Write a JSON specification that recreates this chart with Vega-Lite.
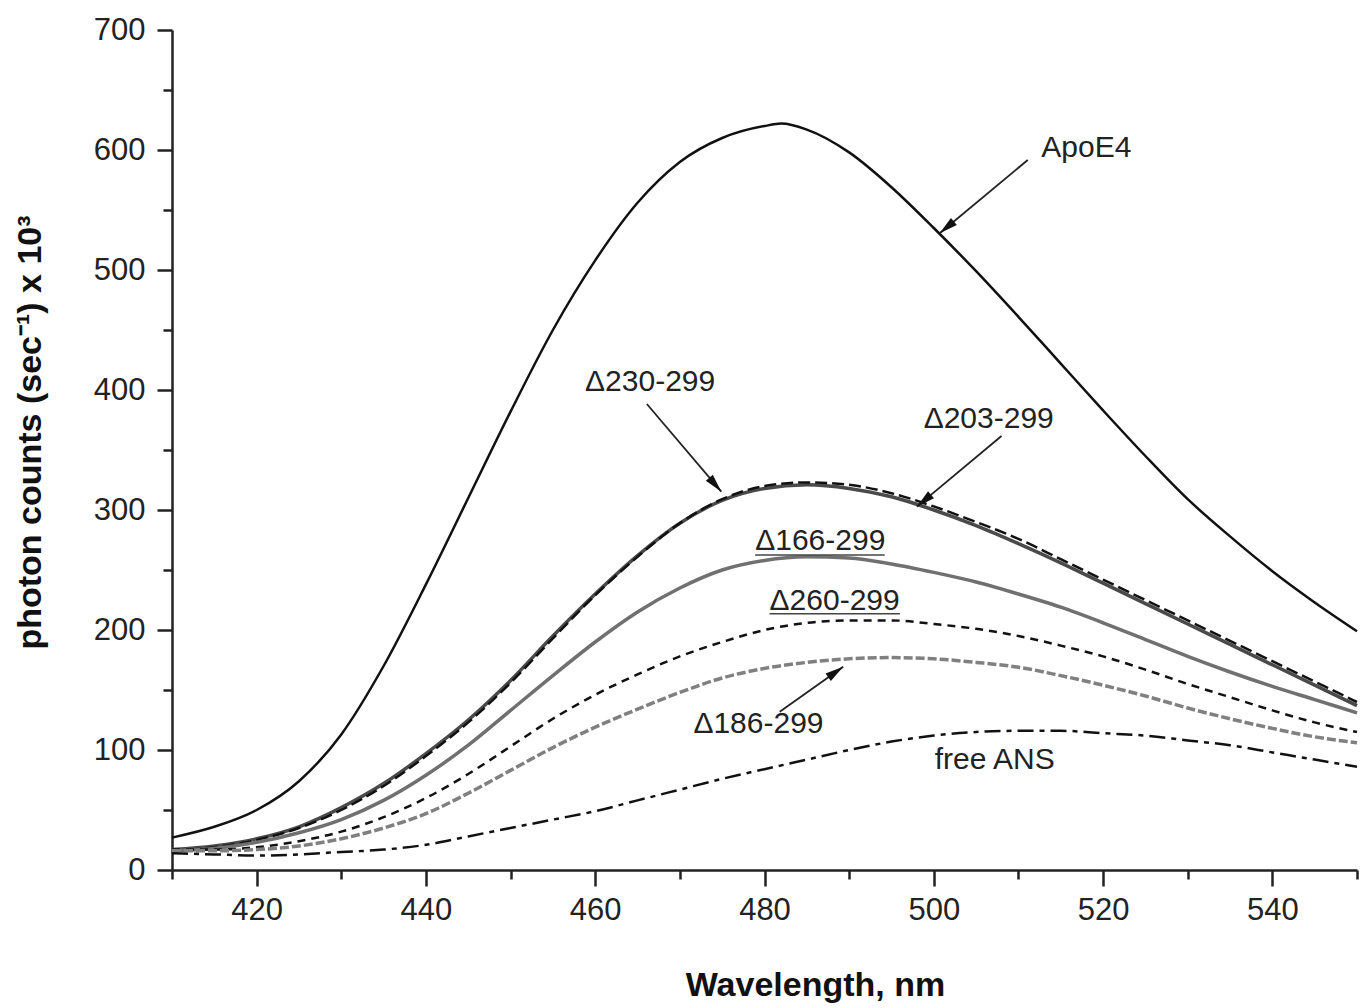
{
  "$schema": "https://vega.github.io/schema/vega-lite/v6.json",
  "width": 1185,
  "height": 840,
  "autosize": "none",
  "padding": {"left": 172, "top": 30, "right": 7, "bottom": 138},
  "background": "white",
  "config": {"view": {"stroke": null}, "font": "Liberation Sans"},
  "datasets": {
    "spectra": [
      {"s":"ApoE4","wl":410,"v":27},{"s":"ApoE4","wl":415,"v":36},{"s":"ApoE4","wl":420,"v":50},{"s":"ApoE4","wl":425,"v":74},{"s":"ApoE4","wl":430,"v":113},{"s":"ApoE4","wl":435,"v":170},{"s":"ApoE4","wl":440,"v":238},{"s":"ApoE4","wl":445,"v":310},{"s":"ApoE4","wl":450,"v":382},{"s":"ApoE4","wl":455,"v":450},{"s":"ApoE4","wl":460,"v":508},{"s":"ApoE4","wl":465,"v":556},{"s":"ApoE4","wl":470,"v":590},{"s":"ApoE4","wl":475,"v":610},{"s":"ApoE4","wl":480,"v":620},{"s":"ApoE4","wl":482,"v":622},{"s":"ApoE4","wl":485,"v":617},{"s":"ApoE4","wl":490,"v":598},{"s":"ApoE4","wl":495,"v":569},{"s":"ApoE4","wl":500,"v":535},{"s":"ApoE4","wl":505,"v":499},{"s":"ApoE4","wl":510,"v":461},{"s":"ApoE4","wl":515,"v":422},{"s":"ApoE4","wl":520,"v":383},{"s":"ApoE4","wl":525,"v":345},{"s":"ApoE4","wl":530,"v":309},{"s":"ApoE4","wl":535,"v":278},{"s":"ApoE4","wl":540,"v":249},{"s":"ApoE4","wl":545,"v":223},{"s":"ApoE4","wl":550,"v":199},
      {"s":"Δ230-299","wl":410,"v":17},{"s":"Δ230-299","wl":415,"v":20},{"s":"Δ230-299","wl":420,"v":26},{"s":"Δ230-299","wl":425,"v":36},{"s":"Δ230-299","wl":430,"v":52},{"s":"Δ230-299","wl":435,"v":72},{"s":"Δ230-299","wl":440,"v":97},{"s":"Δ230-299","wl":445,"v":125},{"s":"Δ230-299","wl":450,"v":158},{"s":"Δ230-299","wl":455,"v":195},{"s":"Δ230-299","wl":460,"v":230},{"s":"Δ230-299","wl":465,"v":262},{"s":"Δ230-299","wl":470,"v":289},{"s":"Δ230-299","wl":475,"v":308},{"s":"Δ230-299","wl":480,"v":318},{"s":"Δ230-299","wl":485,"v":321},{"s":"Δ230-299","wl":490,"v":318},{"s":"Δ230-299","wl":495,"v":311},{"s":"Δ230-299","wl":500,"v":300},{"s":"Δ230-299","wl":505,"v":287},{"s":"Δ230-299","wl":510,"v":272},{"s":"Δ230-299","wl":515,"v":256},{"s":"Δ230-299","wl":520,"v":239},{"s":"Δ230-299","wl":525,"v":222},{"s":"Δ230-299","wl":530,"v":205},{"s":"Δ230-299","wl":535,"v":188},{"s":"Δ230-299","wl":540,"v":171},{"s":"Δ230-299","wl":545,"v":154},{"s":"Δ230-299","wl":550,"v":137},
      {"s":"Δ203-299","wl":410,"v":16},{"s":"Δ203-299","wl":415,"v":19},{"s":"Δ203-299","wl":420,"v":25},{"s":"Δ203-299","wl":425,"v":35},{"s":"Δ203-299","wl":430,"v":50},{"s":"Δ203-299","wl":435,"v":70},{"s":"Δ203-299","wl":440,"v":95},{"s":"Δ203-299","wl":445,"v":123},{"s":"Δ203-299","wl":450,"v":156},{"s":"Δ203-299","wl":455,"v":193},{"s":"Δ203-299","wl":460,"v":229},{"s":"Δ203-299","wl":465,"v":261},{"s":"Δ203-299","wl":470,"v":289},{"s":"Δ203-299","wl":475,"v":309},{"s":"Δ203-299","wl":480,"v":320},{"s":"Δ203-299","wl":485,"v":323},{"s":"Δ203-299","wl":490,"v":321},{"s":"Δ203-299","wl":495,"v":314},{"s":"Δ203-299","wl":500,"v":303},{"s":"Δ203-299","wl":505,"v":290},{"s":"Δ203-299","wl":510,"v":276},{"s":"Δ203-299","wl":515,"v":259},{"s":"Δ203-299","wl":520,"v":242},{"s":"Δ203-299","wl":525,"v":225},{"s":"Δ203-299","wl":530,"v":208},{"s":"Δ203-299","wl":535,"v":191},{"s":"Δ203-299","wl":540,"v":174},{"s":"Δ203-299","wl":545,"v":157},{"s":"Δ203-299","wl":550,"v":140},
      {"s":"Δ166-299","wl":410,"v":16},{"s":"Δ166-299","wl":415,"v":18},{"s":"Δ166-299","wl":420,"v":23},{"s":"Δ166-299","wl":425,"v":31},{"s":"Δ166-299","wl":430,"v":42},{"s":"Δ166-299","wl":435,"v":58},{"s":"Δ166-299","wl":440,"v":79},{"s":"Δ166-299","wl":445,"v":104},{"s":"Δ166-299","wl":450,"v":133},{"s":"Δ166-299","wl":455,"v":162},{"s":"Δ166-299","wl":460,"v":190},{"s":"Δ166-299","wl":465,"v":215},{"s":"Δ166-299","wl":470,"v":235},{"s":"Δ166-299","wl":475,"v":250},{"s":"Δ166-299","wl":480,"v":258},{"s":"Δ166-299","wl":485,"v":261},{"s":"Δ166-299","wl":490,"v":260},{"s":"Δ166-299","wl":495,"v":255},{"s":"Δ166-299","wl":500,"v":248},{"s":"Δ166-299","wl":505,"v":240},{"s":"Δ166-299","wl":510,"v":230},{"s":"Δ166-299","wl":515,"v":219},{"s":"Δ166-299","wl":520,"v":206},{"s":"Δ166-299","wl":525,"v":192},{"s":"Δ166-299","wl":530,"v":178},{"s":"Δ166-299","wl":535,"v":165},{"s":"Δ166-299","wl":540,"v":153},{"s":"Δ166-299","wl":545,"v":142},{"s":"Δ166-299","wl":550,"v":131},
      {"s":"Δ260-299","wl":410,"v":17},{"s":"Δ260-299","wl":415,"v":17},{"s":"Δ260-299","wl":420,"v":19},{"s":"Δ260-299","wl":425,"v":24},{"s":"Δ260-299","wl":430,"v":32},{"s":"Δ260-299","wl":435,"v":44},{"s":"Δ260-299","wl":440,"v":60},{"s":"Δ260-299","wl":445,"v":80},{"s":"Δ260-299","wl":450,"v":103},{"s":"Δ260-299","wl":455,"v":126},{"s":"Δ260-299","wl":460,"v":146},{"s":"Δ260-299","wl":465,"v":163},{"s":"Δ260-299","wl":470,"v":178},{"s":"Δ260-299","wl":475,"v":190},{"s":"Δ260-299","wl":480,"v":200},{"s":"Δ260-299","wl":485,"v":206},{"s":"Δ260-299","wl":490,"v":208},{"s":"Δ260-299","wl":495,"v":208},{"s":"Δ260-299","wl":500,"v":205},{"s":"Δ260-299","wl":505,"v":201},{"s":"Δ260-299","wl":510,"v":195},{"s":"Δ260-299","wl":515,"v":187},{"s":"Δ260-299","wl":520,"v":178},{"s":"Δ260-299","wl":525,"v":167},{"s":"Δ260-299","wl":530,"v":155},{"s":"Δ260-299","wl":535,"v":144},{"s":"Δ260-299","wl":540,"v":133},{"s":"Δ260-299","wl":545,"v":123},{"s":"Δ260-299","wl":550,"v":115},
      {"s":"Δ186-299","wl":410,"v":16},{"s":"Δ186-299","wl":415,"v":16},{"s":"Δ186-299","wl":420,"v":17},{"s":"Δ186-299","wl":425,"v":20},{"s":"Δ186-299","wl":430,"v":26},{"s":"Δ186-299","wl":435,"v":35},{"s":"Δ186-299","wl":440,"v":47},{"s":"Δ186-299","wl":445,"v":64},{"s":"Δ186-299","wl":450,"v":83},{"s":"Δ186-299","wl":455,"v":102},{"s":"Δ186-299","wl":460,"v":119},{"s":"Δ186-299","wl":465,"v":134},{"s":"Δ186-299","wl":470,"v":148},{"s":"Δ186-299","wl":475,"v":160},{"s":"Δ186-299","wl":480,"v":168},{"s":"Δ186-299","wl":485,"v":173},{"s":"Δ186-299","wl":490,"v":176},{"s":"Δ186-299","wl":495,"v":177},{"s":"Δ186-299","wl":500,"v":176},{"s":"Δ186-299","wl":505,"v":173},{"s":"Δ186-299","wl":510,"v":169},{"s":"Δ186-299","wl":515,"v":162},{"s":"Δ186-299","wl":520,"v":154},{"s":"Δ186-299","wl":525,"v":145},{"s":"Δ186-299","wl":530,"v":135},{"s":"Δ186-299","wl":535,"v":126},{"s":"Δ186-299","wl":540,"v":118},{"s":"Δ186-299","wl":545,"v":111},{"s":"Δ186-299","wl":550,"v":106},
      {"s":"free ANS","wl":410,"v":14},{"s":"free ANS","wl":415,"v":13},{"s":"free ANS","wl":420,"v":12},{"s":"free ANS","wl":425,"v":13},{"s":"free ANS","wl":430,"v":15},{"s":"free ANS","wl":435,"v":17},{"s":"free ANS","wl":440,"v":21},{"s":"free ANS","wl":445,"v":28},{"s":"free ANS","wl":450,"v":35},{"s":"free ANS","wl":455,"v":42},{"s":"free ANS","wl":460,"v":49},{"s":"free ANS","wl":465,"v":58},{"s":"free ANS","wl":470,"v":67},{"s":"free ANS","wl":475,"v":76},{"s":"free ANS","wl":480,"v":84},{"s":"free ANS","wl":485,"v":92},{"s":"free ANS","wl":490,"v":100},{"s":"free ANS","wl":495,"v":107},{"s":"free ANS","wl":500,"v":112},{"s":"free ANS","wl":505,"v":115},{"s":"free ANS","wl":510,"v":116},{"s":"free ANS","wl":515,"v":116},{"s":"free ANS","wl":520,"v":114},{"s":"free ANS","wl":525,"v":112},{"s":"free ANS","wl":530,"v":108},{"s":"free ANS","wl":535,"v":104},{"s":"free ANS","wl":540,"v":98},{"s":"free ANS","wl":545,"v":92},{"s":"free ANS","wl":550,"v":86}
    ],
    "labels": [
      {"text":"ApoE4","wl":512.7,"v":602},
      {"text":"Δ230-299","wl":458.8,"v":407},
      {"text":"Δ203-299","wl":498.8,"v":376},
      {"text":"Δ166-299","wl":478.9,"v":274},
      {"text":"Δ260-299","wl":480.6,"v":224},
      {"text":"Δ186-299","wl":471.6,"v":122},
      {"text":"free ANS","wl":500.1,"v":92}
    ],
    "arrows": [
      {"name":"ApoE4","wl":511.1,"v":591.7,"wl2":500.7,"v2":530.6},
      {"name":"Δ230-299","wl":466.1,"v":388.3,"wl2":474.9,"v2":315.3},
      {"name":"Δ203-299","wl":508.0,"v":361.7,"wl2":498.0,"v2":302.8},
      {"name":"Δ186-299","wl":481.8,"v":131.9,"wl2":489.3,"v2":169.4}
    ],
    "underlines": [
      {"name":"Δ166-299","wl":478.9,"wl2":494.2,"v":262.5},
      {"name":"Δ260-299","wl":480.6,"wl2":496.0,"v":213.5}
    ]
  },
  "layer": [
    {
      "layer": [
        {
          "data": {"name": "spectra"},
          "transform": [{"filter": "datum.s == 'ApoE4'"}],
          "mark": {"type": "line", "interpolate": "monotone", "color": "#111111", "strokeWidth": 2.5},
          "encoding": {
            "x": {"field": "wl", "type": "quantitative", "scale": {"domain": [410, 550], "nice": false, "zero": false}, "title": "Wavelength, nm",
              "axis": {"values": [420, 440, 460, 480, 500, 520, 540], "grid": false, "domainColor": "#222222", "domainWidth": 2.5, "tickColor": "#222222", "tickWidth": 2.5, "tickSize": 16, "labelPadding": 9, "labelFont": "Liberation Sans", "labelFontSize": 31, "labelColor": "#222222", "labelFlush": false, "titleFont": "Liberation Sans", "titleFontSize": 34, "titleFontWeight": "bold", "titleColor": "#111111", "titleX": 643, "titleY": 115, "titleAlign": "center", "titleBaseline": "middle"}},
            "y": {"field": "v", "type": "quantitative", "scale": {"domain": [0, 700], "nice": false}, "title": "photon counts (sec⁻¹) x 10³",
              "axis": {"values": [0, 100, 200, 300, 400, 500, 600, 700], "grid": false, "domainColor": "#222222", "domainWidth": 2.5, "tickColor": "#222222", "tickWidth": 2.5, "tickSize": 15, "labelPadding": 12, "labelFont": "Liberation Sans", "labelFontSize": 31, "labelColor": "#222222", "labelFlush": false, "titleFont": "Liberation Sans", "titleFontSize": 34, "titleFontWeight": "bold", "titleColor": "#111111", "titleAngle": -90, "titleX": -142, "titleY": 402, "titleAlign": "center", "titleBaseline": "middle"}}
          }
        },
        {
          "data": {"name": "spectra"},
          "transform": [{"filter": "datum.s == 'Δ230-299'"}],
          "mark": {"type": "line", "interpolate": "monotone", "color": "#4a4a4a", "strokeWidth": 3.5},
          "encoding": {
            "x": {"field": "wl", "type": "quantitative", "scale": {"domain": [410, 550], "nice": false, "zero": false}, "title": "Wavelength, nm"},
            "y": {"field": "v", "type": "quantitative", "scale": {"domain": [0, 700], "nice": false}, "title": "photon counts (sec⁻¹) x 10³"}
          }
        },
        {
          "data": {"name": "spectra"},
          "transform": [{"filter": "datum.s == 'Δ203-299'"}],
          "mark": {"type": "line", "interpolate": "monotone", "color": "#111111", "strokeWidth": 2.5, "strokeDash": [12, 5]},
          "encoding": {
            "x": {"field": "wl", "type": "quantitative", "scale": {"domain": [410, 550], "nice": false, "zero": false}, "title": "Wavelength, nm"},
            "y": {"field": "v", "type": "quantitative", "scale": {"domain": [0, 700], "nice": false}, "title": "photon counts (sec⁻¹) x 10³"}
          }
        },
        {
          "data": {"name": "spectra"},
          "transform": [{"filter": "datum.s == 'Δ166-299'"}],
          "mark": {"type": "line", "interpolate": "monotone", "color": "#707070", "strokeWidth": 3.5},
          "encoding": {
            "x": {"field": "wl", "type": "quantitative", "scale": {"domain": [410, 550], "nice": false, "zero": false}, "title": "Wavelength, nm"},
            "y": {"field": "v", "type": "quantitative", "scale": {"domain": [0, 700], "nice": false}, "title": "photon counts (sec⁻¹) x 10³"}
          }
        },
        {
          "data": {"name": "spectra"},
          "transform": [{"filter": "datum.s == 'Δ260-299'"}],
          "mark": {"type": "line", "interpolate": "monotone", "color": "#111111", "strokeWidth": 2.5, "strokeDash": [8, 6]},
          "encoding": {
            "x": {"field": "wl", "type": "quantitative", "scale": {"domain": [410, 550], "nice": false, "zero": false}, "title": "Wavelength, nm"},
            "y": {"field": "v", "type": "quantitative", "scale": {"domain": [0, 700], "nice": false}, "title": "photon counts (sec⁻¹) x 10³"}
          }
        },
        {
          "data": {"name": "spectra"},
          "transform": [{"filter": "datum.s == 'Δ186-299'"}],
          "mark": {"type": "line", "interpolate": "monotone", "color": "#808080", "strokeWidth": 3.5, "strokeDash": [9, 3]},
          "encoding": {
            "x": {"field": "wl", "type": "quantitative", "scale": {"domain": [410, 550], "nice": false, "zero": false}, "title": "Wavelength, nm"},
            "y": {"field": "v", "type": "quantitative", "scale": {"domain": [0, 700], "nice": false}, "title": "photon counts (sec⁻¹) x 10³"}
          }
        },
        {
          "data": {"name": "spectra"},
          "transform": [{"filter": "datum.s == 'free ANS'"}],
          "mark": {"type": "line", "interpolate": "monotone", "color": "#111111", "strokeWidth": 2.5, "strokeDash": [16, 6, 5, 6]},
          "encoding": {
            "x": {"field": "wl", "type": "quantitative", "scale": {"domain": [410, 550], "nice": false, "zero": false}, "title": "Wavelength, nm"},
            "y": {"field": "v", "type": "quantitative", "scale": {"domain": [0, 700], "nice": false}, "title": "photon counts (sec⁻¹) x 10³"}
          }
        },
        {
          "data": {"name": "labels"},
          "mark": {"type": "text", "align": "left", "baseline": "middle", "font": "Liberation Sans", "fontSize": 30, "color": "#222222"},
          "encoding": {
            "x": {"field": "wl", "type": "quantitative", "scale": {"domain": [410, 550], "nice": false, "zero": false}, "title": "Wavelength, nm"},
            "y": {"field": "v", "type": "quantitative", "scale": {"domain": [0, 700], "nice": false}, "title": "photon counts (sec⁻¹) x 10³"},
            "text": {"field": "text"}
          }
        },
        {
          "data": {"name": "underlines"},
          "mark": {"type": "rule", "color": "#444444", "strokeWidth": 1.5},
          "encoding": {
            "x": {"field": "wl", "type": "quantitative", "scale": {"domain": [410, 550], "nice": false, "zero": false}, "title": "Wavelength, nm"},
            "x2": {"field": "wl2"},
            "y": {"field": "v", "type": "quantitative", "scale": {"domain": [0, 700], "nice": false}, "title": "photon counts (sec⁻¹) x 10³"}
          }
        },
        {
          "data": {"name": "arrows"},
          "mark": {"type": "rule", "color": "#222222", "strokeWidth": 1.8},
          "encoding": {
            "x": {"field": "wl", "type": "quantitative", "scale": {"domain": [410, 550], "nice": false, "zero": false}, "title": "Wavelength, nm"},
            "y": {"field": "v", "type": "quantitative", "scale": {"domain": [0, 700], "nice": false}, "title": "photon counts (sec⁻¹) x 10³"},
            "x2": {"field": "wl2"},
            "y2": {"field": "v2"}
          }
        },
        {
          "data": {"name": "arrows"},
          "transform": [{"filter": "datum.name == 'ApoE4' || datum.name == 'Δ203-299'"}],
          "mark": {"type": "point", "shape": "M0,-1L0.5,1L-0.5,1Z", "filled": true, "color": "#111111", "opacity": 1, "size": 340, "angle": 230, "xOffset": 7.1, "yOffset": -5.9},
          "encoding": {
            "x": {"field": "wl2", "type": "quantitative", "scale": {"domain": [410, 550], "nice": false, "zero": false}, "title": "Wavelength, nm"},
            "y": {"field": "v2", "type": "quantitative", "scale": {"domain": [0, 700], "nice": false}, "title": "photon counts (sec⁻¹) x 10³"}
          }
        },
        {
          "data": {"name": "arrows"},
          "transform": [{"filter": "datum.name == 'Δ230-299'"}],
          "mark": {"type": "point", "shape": "M0,-1L0.5,1L-0.5,1Z", "filled": true, "color": "#111111", "opacity": 1, "size": 340, "angle": 139.4, "xOffset": -6.0, "yOffset": -7.0},
          "encoding": {
            "x": {"field": "wl2", "type": "quantitative", "scale": {"domain": [410, 550], "nice": false, "zero": false}, "title": "Wavelength, nm"},
            "y": {"field": "v2", "type": "quantitative", "scale": {"domain": [0, 700], "nice": false}, "title": "photon counts (sec⁻¹) x 10³"}
          }
        },
        {
          "data": {"name": "arrows"},
          "transform": [{"filter": "datum.name == 'Δ186-299'"}],
          "mark": {"type": "point", "shape": "M0,-1L0.5,1L-0.5,1Z", "filled": true, "color": "#111111", "opacity": 1, "size": 340, "angle": 54.6, "xOffset": -7.5, "yOffset": 5.3},
          "encoding": {
            "x": {"field": "wl2", "type": "quantitative", "scale": {"domain": [410, 550], "nice": false, "zero": false}, "title": "Wavelength, nm"},
            "y": {"field": "v2", "type": "quantitative", "scale": {"domain": [0, 700], "nice": false}, "title": "photon counts (sec⁻¹) x 10³"}
          }
        }
      ]
    },
    {
      "data": {"name": "spectra"},
      "mark": {"type": "point", "opacity": 0},
      "encoding": {
        "x": {"field": "wl", "type": "quantitative", "scale": {"domain": [410, 550], "nice": false, "zero": false},
          "axis": {"orient": "bottom", "values": [410, 430, 450, 470, 490, 510, 530, 550], "labels": false, "domain": false, "grid": false, "ticks": true, "tickSize": 9, "tickWidth": 2.5, "tickColor": "#222222", "title": null}},
        "y": {"field": "v", "type": "quantitative", "scale": {"domain": [0, 700], "nice": false},
          "axis": {"orient": "left", "values": [50, 150, 250, 350, 450, 550, 650], "labels": false, "domain": false, "grid": false, "ticks": true, "tickSize": 9, "tickWidth": 2.5, "tickColor": "#222222", "title": null}}
      }
    }
  ],
  "resolve": {"axis": {"x": "independent", "y": "independent"}}
}
